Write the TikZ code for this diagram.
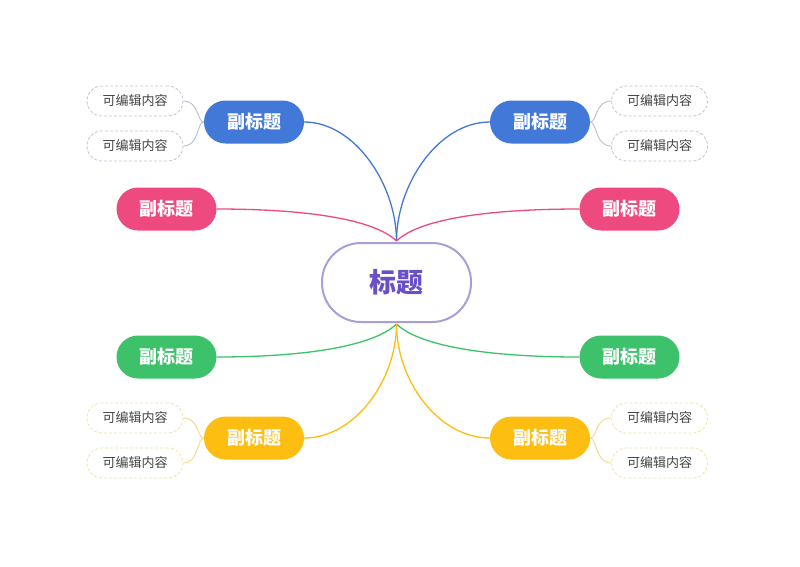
\documentclass[tikz,border=0pt]{standalone}
\usepackage{fontspec}
\newfontfamily\cjk{Noto Sans CJK SC}
\definecolor{cblue}{HTML}{4279D8}
\definecolor{cpink}{HTML}{EF4A80}
\definecolor{cgreen}{HTML}{3DC26B}
\definecolor{cyellow}{HTML}{FDBE11}
\definecolor{cmainb}{HTML}{A89FD8}
\definecolor{cmaint}{HTML}{6A50C8}
\definecolor{leafb}{HTML}{B9C5D8}
\definecolor{leafy}{HTML}{F3E2A6}
\definecolor{leaft}{HTML}{444444}
\definecolor{leafl}{HTML}{B8C0CC}
\definecolor{leafly}{HTML}{F2D98C}
\tikzset{
  sub/.style={rectangle, rounded corners=21.5pt, minimum width=100pt, minimum height=43pt, inner sep=0pt, text=white, font=\cjk\bfseries\fontsize{18}{20}\selectfont},
  leaf/.style={rectangle, rounded corners=15pt, minimum width=96pt, minimum height=30pt, inner sep=0pt, dashed, dash pattern=on 3pt off 2pt, line width=0.8pt, fill=white, text=leaft, font=\cjk\fontsize{13}{15}\selectfont},
  conn/.style={line width=1.3pt},
  lconn/.style={line width=0.9pt},
}
\begin{document}
\begin{tikzpicture}[x=1pt,y=-1pt]
\useasboundingbox (0,0) rectangle (800,566);
\fill[white] (0,0) rectangle (800,566);
% main
\node[rectangle, rounded corners=39pt, minimum width=149pt, minimum height=79pt, draw=cmainb, line width=2pt, fill=white, text=cmaint, font=\cjk\bfseries\fontsize{27}{30}\selectfont] (main) at (396.5,282.5) {标题};
\coordinate (top) at (396.5,241);
\coordinate (bot) at (396.5,324);
% subtitles
\node[sub, fill=cblue] (b1) at (254,122) {副标题};
\node[sub, fill=cblue] (b2) at (540,122) {副标题};
\node[sub, fill=cpink] (p1) at (166.5,209) {副标题};
\node[sub, fill=cpink] (p2) at (629.5,209) {副标题};
\node[sub, fill=cgreen] (g1) at (166.5,357) {副标题};
\node[sub, fill=cgreen] (g2) at (629.5,357) {副标题};
\node[sub, fill=cyellow] (y1) at (254,438) {副标题};
\node[sub, fill=cyellow] (y2) at (540,438) {副标题};
% leaves
\node[leaf, draw=leafb] (l1) at (135,101) {可编辑内容};
\node[leaf, draw=leafb] (l2) at (135,146) {可编辑内容};
\node[leaf, draw=leafb] (l3) at (659.5,101) {可编辑内容};
\node[leaf, draw=leafb] (l4) at (659.5,146) {可编辑内容};
\node[leaf, draw=leafy] (l5) at (135,418) {可编辑内容};
\node[leaf, draw=leafy] (l6) at (135,463) {可编辑内容};
\node[leaf, draw=leafy] (l7) at (659.5,418) {可编辑内容};
\node[leaf, draw=leafy] (l8) at (659.5,463) {可编辑内容};
% main connectors
\draw[conn, cblue] (b1.east) .. controls (355,122) and (396.5,185) .. (top);
\draw[conn, cblue] (b2.west) .. controls (438,122) and (396.5,185) .. (top);
\draw[conn, cpink] (p1.east) .. controls (310,209) and (375,220) .. (top);
\draw[conn, cpink] (p2.west) .. controls (483,209) and (418,220) .. (top);
\draw[conn, cgreen] (g1.east) .. controls (310,357) and (375,345) .. (bot);
\draw[conn, cgreen] (g2.west) .. controls (483,357) and (418,345) .. (bot);
\draw[conn, cyellow] (y1.east) .. controls (355,438) and (396.5,380) .. (bot);
\draw[conn, cyellow] (y2.west) .. controls (438,438) and (396.5,380) .. (bot);
% leaf connectors
\draw[lconn, leafl] (l1.east) .. controls (199,101) and (197,122) .. (b1.west);
\draw[lconn, leafl] (l2.east) .. controls (199,146) and (197,122) .. (b1.west);
\draw[lconn, leafl] (l3.west) .. controls (595,101) and (597,122) .. (b2.east);
\draw[lconn, leafl] (l4.west) .. controls (595,146) and (597,122) .. (b2.east);
\draw[lconn, leafly] (l5.east) .. controls (199,418) and (197,438) .. (y1.west);
\draw[lconn, leafly] (l6.east) .. controls (199,463) and (197,438) .. (y1.west);
\draw[lconn, leafly] (l7.west) .. controls (595,418) and (597,438) .. (y2.east);
\draw[lconn, leafly] (l8.west) .. controls (595,463) and (597,438) .. (y2.east);
\end{tikzpicture}
\end{document}
